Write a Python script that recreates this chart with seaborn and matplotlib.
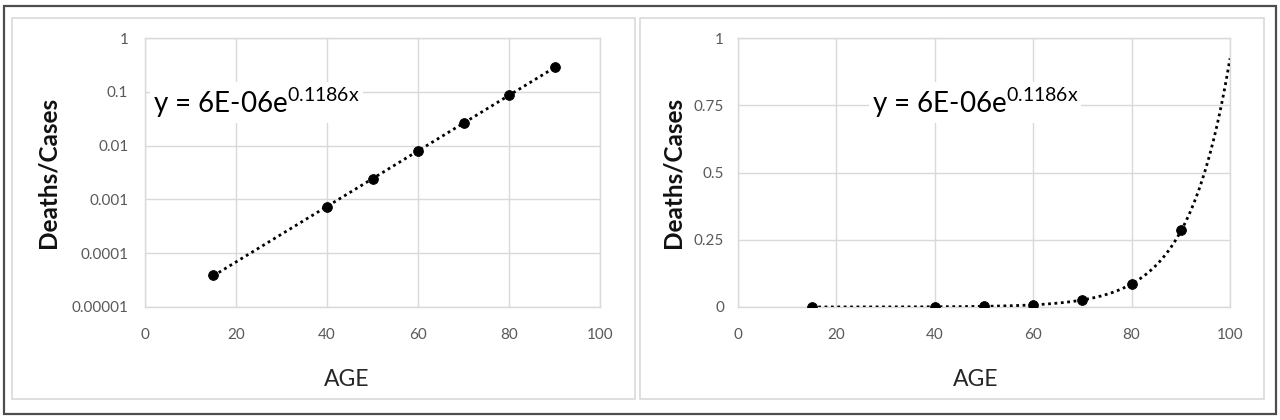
import numpy as np
import pandas as pd
import seaborn as sns
import matplotlib.pyplot as plt
from matplotlib.patches import Rectangle

# data
age = [15, 40, 50, 60, 70, 80, 90]
rate = [3.9e-5, 7.2e-4, 2.4e-3, 7.9e-3, 2.6e-2, 8.7e-2, 0.285]

x_ticks = [0, 20, 40, 60, 80, 100]
log_ticks = [1e-5, 1e-4, 1e-3, 1e-2, 1e-1, 1]
log_labels = ['0.00001', '0.0001', '0.001', '0.01', '0.1', '1']
lin_ticks = [0, 0.25, 0.5, 0.75, 1]
lin_labels = ['0', '0.25', '0.5', '0.75', '1']
equation = 'y = 6E-06e$^{\\mathregular{0.1186x}}$'

sns.set_style('white')
plt.rcParams['font.family'] = ['Lato', 'DejaVu Sans']

df = pd.DataFrame({'AGE': age, 'rate': rate})

# exponential trendline fitted to the points (as Excel does)
slope, icpt = np.polyfit(df['AGE'], np.log(df['rate']), 1)
fit_left = pd.DataFrame({'AGE': np.linspace(15, 90, 100)})
fit_left['rate'] = np.exp(icpt + slope * fit_left['AGE'])
fit_right = pd.DataFrame({'AGE': np.linspace(15, 100, 150)})
fit_right['rate'] = np.exp(icpt + slope * fit_right['AGE'])

fig = plt.figure(figsize=(12.8, 4.2), dpi=100)
ax1 = fig.add_axes([145 / 1280, 1 - 307 / 420, 455 / 1280, 269 / 420])
ax2 = fig.add_axes([738 / 1280, 1 - 307 / 420, 492 / 1280, 269 / 420])

tick_col = '#595959'
grid_col = '#d9d9d9'
dots = (0, (1, 1.3))

for ax, fit in [(ax1, fit_left), (ax2, fit_right)]:
    sns.lineplot(data=fit, x='AGE', y='rate', ax=ax, color='black',
                 linewidth=2, linestyle=dots, zorder=3)
    sns.scatterplot(data=df, x='AGE', y='rate', ax=ax, color='black',
                    s=50, edgecolor='black', zorder=4)
    ax.set_xlim(0, 100)
    ax.set_xticks(x_ticks)
    ax.set_xticklabels([str(t) for t in x_ticks])
    ax.grid(True, color=grid_col, linewidth=1)
    ax.set_axisbelow(True)
    for s in ax.spines.values():
        s.set_color(grid_col)
        s.set_linewidth(1)
    ax.tick_params(length=0, colors=tick_col, labelsize=11)
    ax.tick_params(axis='x', pad=15)
    ax.set_xlabel('AGE', fontsize=16.5, color='#262626')
    ax.set_ylabel('Deaths/Cases', fontsize=17.5, fontweight='bold', color='#111111')

# left: log scale
ax1.set_yscale('log')
ax1.set_ylim(1e-5, 1)
ax1.set_yticks(log_ticks)
ax1.set_yticklabels(log_labels)
ax1.minorticks_off()
ax1.tick_params(axis='y', pad=12)
ax1.yaxis.set_label_coords(-0.189, 0.5)
ax1.xaxis.set_label_coords(0.444, -0.23)
ax1.text(0.018, 0.76, equation, transform=ax1.transAxes, fontsize=20,
         va='center', ha='left', color='black', zorder=5,
         bbox=dict(facecolor='white', edgecolor='none', pad=2))

# right: linear scale
ax2.set_ylim(0, 1)
ax2.set_yticks(lin_ticks)
ax2.set_yticklabels(lin_labels)
ax2.tick_params(axis='y', pad=10)
ax2.yaxis.set_label_coords(-0.108, 0.5)
ax2.xaxis.set_label_coords(0.484, -0.23)
ax2.text(0.272, 0.76, equation, transform=ax2.transAxes, fontsize=20,
         va='center', ha='left', color='black', zorder=5,
         bbox=dict(facecolor='white', edgecolor='none', pad=2))

# panel frames and outer border
for x0, x1 in [(12, 635), (640, 1264)]:
    fig.add_artist(Rectangle((x0 / 1280, 1 - 399 / 420), (x1 - x0) / 1280, 381 / 420,
                             transform=fig.transFigure, fill=False,
                             edgecolor='#d9d9d9', linewidth=1.2))
fig.add_artist(Rectangle((4 / 1280, 1 - 414 / 420), 1272 / 1280, 408 / 420,
                         transform=fig.transFigure, fill=False,
                         edgecolor='#4d4d4d', linewidth=1.6))

fig.savefig('out.png', dpi=100, facecolor='white')
